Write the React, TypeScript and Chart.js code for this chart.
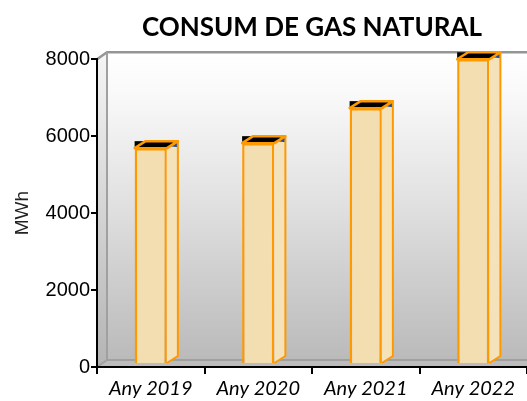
import React, { useEffect, useRef } from "react";
import { Chart, registerables } from "chart.js";

Chart.register(...registerables);

const chartTitle = "CONSUM DE GAS NATURAL";
const yAxisTitle = "MWh";
const categories = ["Any 2019", "Any 2020", "Any 2021", "Any 2022"];
const consumMWh = [5610, 5740, 6650, 7920];
const yTicks = [0, 2000, 4000, 6000, 8000];

const WALL_DX = 10;
const WALL_DY = 7;
const BAR_DX = 11;
const BAR_DY = 7;
const BAR_LIFT = 3;
const ORANGE = "#ff9900";
const FRONT = "#f3deb1";
const SIDE = "#f4e2bb";

const wall3d = {
  id: "wall3d",
  beforeDraw(chart: any) {
    const { ctx, chartArea: a } = chart;
    const L = a.left, R = a.right, T = a.top, B = a.bottom;
    ctx.save();
    const g = ctx.createLinearGradient(0, T - WALL_DY, 0, B - WALL_DY);
    g.addColorStop(0, "#ffffff");
    g.addColorStop(0.12, "#fafafa");
    g.addColorStop(0.5, "#e0e0e0");
    g.addColorStop(1, "#bababa");
    ctx.fillStyle = g;
    ctx.fillRect(L + WALL_DX, T - WALL_DY, R - L + 20, B - T);
    // left wall
    const g2 = ctx.createLinearGradient(0, T, 0, B);
    g2.addColorStop(0, "#f4f4f4");
    g2.addColorStop(1, "#b4b4b4");
    ctx.beginPath();
    ctx.moveTo(L, T);
    ctx.lineTo(L + WALL_DX, T - WALL_DY);
    ctx.lineTo(L + WALL_DX, B - WALL_DY);
    ctx.lineTo(L, B);
    ctx.closePath();
    ctx.fillStyle = g2;
    ctx.fill();
    // floor
    ctx.beginPath();
    ctx.moveTo(L, B);
    ctx.lineTo(L + WALL_DX, B - WALL_DY);
    ctx.lineTo(R + WALL_DX + 20, B - WALL_DY);
    ctx.lineTo(R + 20, B);
    ctx.closePath();
    ctx.fillStyle = "#bcbcbc";
    ctx.fill();
    // edges
    ctx.strokeStyle = "#959595";
    ctx.lineWidth = 2.5;
    ctx.beginPath();
    ctx.moveTo(L, T);
    ctx.lineTo(L + WALL_DX, T - WALL_DY);
    ctx.lineTo(R + WALL_DX + 20, T - WALL_DY);
    ctx.stroke();
    ctx.lineWidth = 2;
    ctx.strokeStyle = "#a0a0a0";
    ctx.beginPath();
    ctx.moveTo(L + WALL_DX, T - WALL_DY);
    ctx.lineTo(L + WALL_DX, B - WALL_DY);
    ctx.lineTo(R + WALL_DX + 20, B - WALL_DY);
    ctx.stroke();
    ctx.beginPath();
    ctx.moveTo(L + WALL_DX, B - WALL_DY);
    ctx.lineTo(L, B);
    ctx.stroke();
    ctx.restore();
  },
  beforeDatasetsDraw(chart: any) {
    chart.ctx.save();
    chart.ctx.translate(0, -BAR_LIFT);
  },
  afterDatasetsDraw(chart: any) {
    const ctx = chart.ctx;
    const meta = chart.getDatasetMeta(0);
    meta.data.forEach((bar: any) => {
      const { x, y, base, width } = bar.getProps(["x", "y", "base", "width"], true);
      const x0 = x - width / 2;
      const x1 = x + width / 2;
      ctx.save();
      ctx.lineJoin = "round";
      // black backdrop of the top
      ctx.fillStyle = "#000";
      ctx.fillRect(x0, y - BAR_DY, width + BAR_DX, BAR_DY);
      // side face
      ctx.beginPath();
      ctx.moveTo(x1, y);
      ctx.lineTo(x1 + BAR_DX, y - BAR_DY);
      ctx.lineTo(x1 + BAR_DX, base - BAR_DY);
      ctx.lineTo(x1, base);
      ctx.closePath();
      ctx.fillStyle = SIDE;
      ctx.fill();
      // blue tint at top of side
      ctx.beginPath();
      ctx.moveTo(x1 + 3, y - 2);
      ctx.lineTo(x1 + BAR_DX, y - BAR_DY);
      ctx.lineTo(x1 + BAR_DX, y - 1);
      ctx.closePath();
      ctx.fillStyle = "#1d4f9c";
      ctx.fill();
      ctx.beginPath();
      ctx.moveTo(x1, y);
      ctx.lineTo(x1 + BAR_DX, y - BAR_DY);
      ctx.lineTo(x1 + BAR_DX, base - BAR_DY);
      ctx.lineTo(x1, base);
      ctx.strokeStyle = ORANGE;
      ctx.lineWidth = 2;
      ctx.stroke();
      // top face
      ctx.beginPath();
      ctx.moveTo(x0, y);
      ctx.lineTo(x1, y);
      ctx.lineTo(x1 + BAR_DX, y - BAR_DY);
      ctx.lineTo(x0 + BAR_DX, y - BAR_DY);
      ctx.closePath();
      ctx.fillStyle = "#000";
      ctx.fill();
      ctx.strokeStyle = ORANGE;
      ctx.lineWidth = 2.5;
      ctx.stroke();
      ctx.restore();
    });
    ctx.restore();
  },
};

export default function App() {
  const ref = useRef<HTMLCanvasElement | null>(null);
  useEffect(() => {
    if (!ref.current) return;
    const chart = new Chart(ref.current, {
      type: "bar",
      data: {
        labels: categories,
        datasets: [
          {
            label: yAxisTitle,
            data: consumMWh,
            backgroundColor: FRONT,
            borderColor: ORANGE,
            borderWidth: 2.5,
            categoryPercentage: 1,
            barPercentage: 0.3,
            clip: false as any,
          },
        ],
      },
      options: {
        responsive: false,
        animation: false,
        layout: { padding: { left: 0, right: 0, top: 0, bottom: 0 } },
        plugins: {
          legend: { display: false },
          tooltip: { enabled: false },
          title: {
            display: true,
            text: chartTitle,
            fullSize: false,
            color: "#000",
            font: { family: "Lato", weight: "bold", size: 26 },
            padding: { top: 12, bottom: 16 },
          },
        },
        scales: {
          x: {
            type: "category",
            offset: true,
            grid: {
              offset: true,
              drawOnChartArea: false,
              drawTicks: true,
              tickLength: 7,
              color: "#000",
              lineWidth: 2,
            },
            border: { color: "#000", width: 2 },
            ticks: {
              color: "#000",
              font: { family: "Lato", style: "italic", size: 20 },
              padding: 3,
              maxRotation: 0,
            },
            afterFit(s: any) {
              s.height = 34;
            },
          },
          y: {
            min: 0,
            max: 8000,
            afterBuildTicks(s: any) {
              s.ticks = yTicks.map((v) => ({ value: v }));
            },
            ticks: {
              color: "#000",
              font: { family: "Liberation Sans", size: 20 },
              padding: 1,
              callback: (v: any) => String(v),
            },
            grid: {
              drawOnChartArea: false,
              tickLength: 6,
              color: "#000",
              lineWidth: 2,
            },
            border: { color: "#000", width: 2 },
            title: {
              display: true,
              text: yAxisTitle,
              color: "#222",
              font: { family: "Liberation Sans", size: 19 },
              padding: { top: 11, bottom: 0 },
            },
            afterFit(s: any) {
              s.width = 97;
            },
          },
        },
      },
      plugins: [wall3d],
    });
    return () => chart.destroy();
  }, []);
  return (
    <div style={{ position: "absolute", left: 0, top: 0, width: 527, height: 401, background: "#fff" }}>
      <canvas ref={ref} width={527} height={401} />
    </div>
  );
}
